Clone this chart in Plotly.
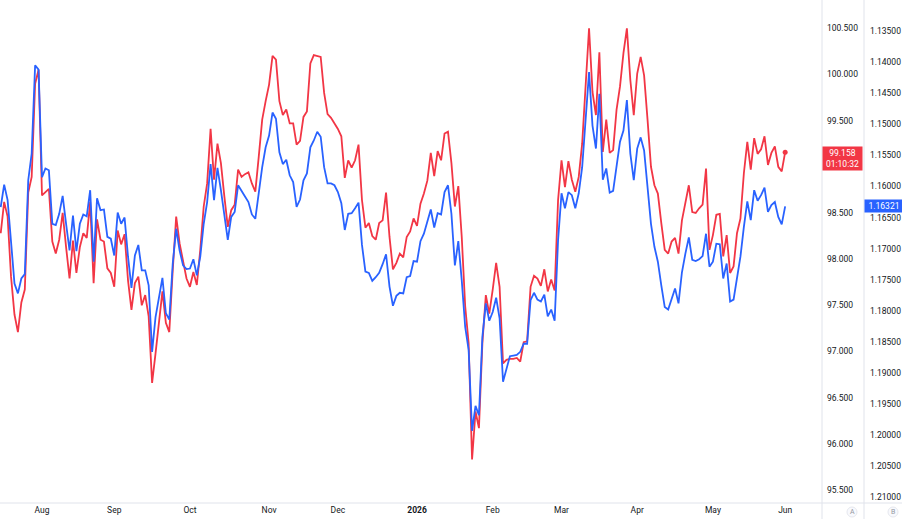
import pandas as pd
import plotly.graph_objects as go

# DXY (red, scale A) and EUR/USD (blue, scale B inverted), daily (weekdays)
start_date = "2025-07-16"
dxy = [98.28, 98.62, 98.46, 97.81, 97.40, 97.21, 97.53, 97.67, 98.72, 98.89,
       99.90, 100.05, 98.69, 98.73, 98.76, 98.19, 98.06, 98.21, 98.50, 98.13,
       97.79, 98.20, 97.85, 98.13, 98.28, 98.23, 98.62, 97.74, 98.43, 98.21,
       98.19, 97.90, 97.85, 97.70, 98.31, 98.16, 98.27, 97.77, 97.45, 97.74,
       97.81, 97.50, 97.61, 97.38, 96.66, 96.98, 97.31, 97.65, 97.31, 97.21,
       97.88, 98.46, 98.17, 97.96, 97.79, 97.70, 97.86, 97.72, 98.10, 98.57,
       98.82, 99.41, 98.86, 99.25, 99.04, 98.68, 98.35, 98.53, 98.59, 98.97,
       98.89, 98.92, 98.94, 98.82, 98.73, 99.11, 99.51, 99.71, 99.89, 100.20,
       100.16, 99.71, 99.56, 99.62, 99.47, 99.47, 99.24, 99.28, 99.54, 99.60,
       100.12, 100.21, 100.20, 100.19, 99.80, 99.57, 99.53, 99.47, 99.41, 99.33,
       98.88, 99.07, 98.99, 99.07, 99.24, 98.64, 98.34, 98.39, 98.25, 98.21,
       98.39, 98.42, 98.72, 98.24, 97.89, 97.96, 98.06, 98.02, 98.24, 98.30,
       98.44, 98.36, 98.60, 98.71, 98.85, 99.15, 98.90, 99.17, 99.07, 99.36,
       99.38, 99.04, 98.57, 98.79, 98.24, 97.49, 97.09, 95.83, 96.35, 96.17,
       97.09, 97.61, 97.41, 97.67, 97.96, 97.70, 96.87, 96.91, 96.92, 96.92,
       96.93, 96.89, 97.10, 97.11, 97.70, 97.82, 97.79, 97.71, 97.89, 97.65,
       97.78, 97.66, 98.64, 99.07, 98.78, 99.06, 98.86, 98.73, 98.89, 99.25,
       99.94, 100.50, 99.81, 99.56, 100.24, 99.16, 99.51, 99.15, 99.18, 99.62,
       99.87, 100.23, 100.50, 99.94, 99.56, 100.01, 100.19, 99.99, 99.51, 99.00,
       98.80, 98.71, 98.39, 98.10, 98.06, 98.19, 98.23, 98.06, 98.42, 98.60,
       98.80, 98.51, 98.50, 98.55, 98.59, 98.98, 98.10, 98.26, 98.48, 98.49,
       98.03, 98.26, 97.85, 97.92, 98.28, 98.44, 98.93, 99.27, 98.97, 99.31,
       99.14, 99.19, 99.33, 99.02, 99.15, 99.22, 99.00, 98.95, 99.158]

eurusd = [1.1633, 1.1597, 1.1622, 1.1692, 1.1756, 1.1772, 1.1748, 1.1741, 1.1590, 1.1547,
          1.1405, 1.1412, 1.1585, 1.1571, 1.1574, 1.1660, 1.1662, 1.1644, 1.1615, 1.1660,
          1.1703, 1.1647, 1.1704, 1.1660, 1.1645, 1.1648, 1.1606, 1.1721, 1.1619, 1.1638,
          1.1637, 1.1681, 1.1684, 1.1711, 1.1642, 1.1660, 1.1650, 1.1713, 1.1763, 1.1711,
          1.1694, 1.1735, 1.1735, 1.1759, 1.1866, 1.1810, 1.1780, 1.1747, 1.1804, 1.1814,
          1.1724, 1.1668, 1.1703, 1.1727, 1.1733, 1.1732, 1.1717, 1.1743, 1.1713, 1.1660,
          1.1625, 1.1564, 1.1622, 1.1570, 1.1606, 1.1649, 1.1686, 1.1649, 1.1641, 1.1598,
          1.1606, 1.1616, 1.1625, 1.1645, 1.1652, 1.1606, 1.1569, 1.1537, 1.1518, 1.1481,
          1.1491, 1.1545, 1.1564, 1.1557, 1.1582, 1.1593, 1.1633, 1.1621, 1.1590, 1.1579,
          1.1537, 1.1526, 1.1512, 1.1520, 1.1569, 1.1595, 1.1595, 1.1598, 1.1609, 1.1627,
          1.1670, 1.1644, 1.1643, 1.1635, 1.1626, 1.1694, 1.1737, 1.1739, 1.1752, 1.1746,
          1.1739, 1.1725, 1.1709, 1.1761, 1.1792, 1.1776, 1.1771, 1.1772, 1.1746, 1.1744,
          1.1720, 1.1721, 1.1688, 1.1676, 1.1657, 1.1637, 1.1666, 1.1643, 1.1645, 1.1609,
          1.1598, 1.1644, 1.1727, 1.1688, 1.1751, 1.1826, 1.1863, 1.1993, 1.1953, 1.1968,
          1.1842, 1.1788, 1.1816, 1.1802, 1.1779, 1.1812, 1.1914, 1.1895, 1.1873, 1.1872,
          1.1871, 1.1866, 1.1853, 1.1853, 1.1783, 1.1771, 1.1782, 1.1785, 1.1774, 1.1809,
          1.1798, 1.1816, 1.1686, 1.1611, 1.1635, 1.1609, 1.1614, 1.1635, 1.1611, 1.1569,
          1.1494, 1.1416, 1.1502, 1.1539, 1.1451, 1.1589, 1.1571, 1.1610, 1.1607, 1.1569,
          1.1528, 1.1510, 1.1461, 1.1547, 1.1590, 1.1539, 1.1521, 1.1542, 1.1598, 1.1660,
          1.1697, 1.1721, 1.1759, 1.1794, 1.1798, 1.1780, 1.1764, 1.1788, 1.1738, 1.1708,
          1.1682, 1.1718, 1.1720, 1.1717, 1.1712, 1.1676, 1.1729, 1.1721, 1.1692, 1.1693,
          1.1748, 1.1724, 1.1785, 1.1782, 1.1745, 1.1713, 1.1665, 1.1624, 1.1654, 1.1606,
          1.1623, 1.1614, 1.1602, 1.1641, 1.1630, 1.1625, 1.1649, 1.1661, 1.16321]

tick_dates = ["2025-08-01", "2025-09-01", "2025-10-01", "2025-11-03", "2025-12-01",
              "2026-01-01", "2026-02-02", "2026-03-02", "2026-04-01", "2026-05-01",
              "2026-06-01"]
tick_text = ["Aug", "Sep", "Oct", "Nov", "Dec", "<b>2026</b>", "Feb", "Mar", "Apr",
             "May", "Jun"]
dxy_ticks = [95.5, 96.0, 96.5, 97.0, 97.5, 98.0, 98.5, 99.0, 99.5, 100.0, 100.5]
eur_ticks = [1.130, 1.135, 1.140, 1.145, 1.150, 1.155, 1.160, 1.165, 1.170, 1.175,
             1.180, 1.185, 1.190, 1.195, 1.200, 1.205, 1.210]
countdown = "01:10:32"

dates = pd.bdate_range(start=start_date, periods=len(dxy))

RED = "#F23645"
BLUE = "#2962FF"
GRID = "#e0e3eb"
TXT = "#131722"
FONT = "Roboto"
W, H = 902, 519
PW = 864  # paper width (plot + first price scale)
PH = 503

fig = go.Figure()
fig.add_trace(go.Scatter(x=dates, y=eurusd, mode="lines", yaxis="y2",
                         line=dict(color=BLUE, width=1.8), hoverinfo="skip"))
fig.add_trace(go.Scatter(x=dates, y=dxy, mode="lines", yaxis="y",
                         line=dict(color=RED, width=1.8), hoverinfo="skip"))
fig.add_trace(go.Scatter(x=[dates[-1]], y=[dxy[-1]], mode="markers", yaxis="y",
                         marker=dict(color=RED, size=5), hoverinfo="skip"))

shapes = []
# bottom separator across full width
shapes.append(dict(type="line", xref="paper", yref="paper", x0=0, x1=W / PW,
                   y0=0, y1=0, line=dict(color=GRID, width=1)))
# vertical separators of the two price scales
for px in (822, 864):
    shapes.append(dict(type="line", xref="paper", yref="paper", x0=px / PW, x1=px / PW,
                       y0=-16 / PH, y1=1, line=dict(color=GRID, width=1)))

annotations = []
# scale buttons A / B
for lbl, px in (("A", 852), ("B", 893)):
    shapes.append(dict(type="circle", xref="paper", yref="paper",
                       x0=(px - 5) / PW, x1=(px + 5) / PW,
                       y0=(PH - 517) / PH, y1=(PH - 507) / PH,
                       line=dict(color="#e6e8ee", width=1), fillcolor="#f8f9fd"))
    annotations.append(dict(text=lbl, xref="paper", yref="paper", x=px / PW,
                            y=(PH - 512) / PH, showarrow=False,
                            font=dict(family=FONT, size=7, color="#9598a1"),
                            xanchor="center", yanchor="middle"))

# last price labels
annotations.append(dict(text=f"{dxy[-1]:.3f}<br>{countdown}", xref="paper", yref="y",
                        x=822 / PW, y=dxy[-1], xanchor="left", yanchor="top",
                        yshift=6, showarrow=False, bgcolor=RED, borderpad=1,
                        width=37, align="center",
                        font=dict(family=FONT, size=8.5, color="white")))
annotations.append(dict(text=f"{eurusd[-1]:.5f}", xref="paper", yref="y2",
                        x=1.0, y=eurusd[-1], xanchor="left", yanchor="middle",
                        showarrow=False, bgcolor=BLUE, borderpad=1, width=36,
                        align="center",
                        font=dict(family=FONT, size=8.5, color="white")))

fig.update_layout(
    width=W, height=H,
    margin=dict(l=0, r=W - PW, t=0, b=H - PH, autoexpand=False),
    paper_bgcolor="white", plot_bgcolor="white",
    showlegend=False,
    font=dict(family=FONT, size=8.5, color=TXT),
    xaxis=dict(domain=[0, 822 / PW], type="date",
               range=["2025-07-15 19:00", "2026-06-15 17:00"],
               rangebreaks=[dict(bounds=["sat", "mon"])],
               tickmode="array", tickvals=tick_dates, ticktext=tick_text,
               showgrid=False, zeroline=False, showline=False, ticks="",
               tickfont=dict(family=FONT, size=8.5, color=TXT)),
    yaxis=dict(side="right", anchor="x", range=[95.359, 100.806],
               tickmode="array", tickvals=dxy_ticks, tickformat=".3f",
               showgrid=False, zeroline=False, showline=False, ticks="",
               ticklabelstandoff=4,
               tickfont=dict(family=FONT, size=8.5, color=TXT)),
    yaxis2=dict(side="right", anchor="free", position=1.0, overlaying="y",
                range=[1.21092, 1.1300],
                tickmode="array", tickvals=eur_ticks, tickformat=".5f",
                showgrid=False, zeroline=False, showline=False, ticks="",
                ticklabelstandoff=5,
                tickfont=dict(family=FONT, size=8.5, color=TXT)),
    shapes=shapes,
    annotations=annotations,
)

fig.write_html("out.html")
